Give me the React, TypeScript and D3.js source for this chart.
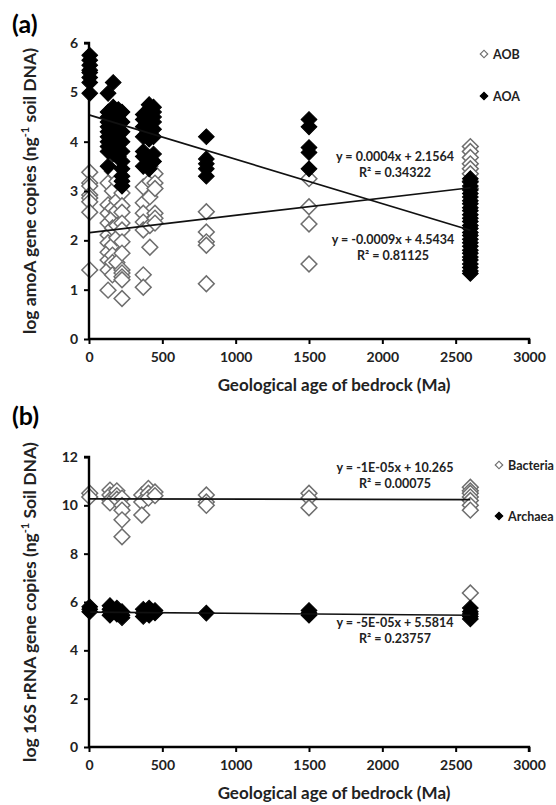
import * as d3 from 'd3'
import { useEffect, useRef } from 'react'

type Pt = [number, number]

// panel (a): log amoA gene copies
const aob: Pt[] = [
  [5, 3.38], [5, 3.16], [5, 3.1], [5, 2.92], [5, 2.86], [5, 2.78], [5, 2.57], [5, 1.4],
  [130, 3.16], [130, 2.72], [130, 2.55], [130, 2.35], [130, 2.11], [130, 1.95], [130, 1.76], [130, 1.6], [130, 1.4], [130, 0.99],
  [160, 3.4], [160, 3.0], [160, 2.65], [160, 2.45], [160, 2.25], [160, 1.9], [160, 1.7], [160, 1.55], [160, 1.3],
  [190, 3.2], [190, 2.8], [190, 2.6], [190, 2.3], [190, 2.05], [190, 1.55],
  [225, 2.96], [225, 2.7], [225, 2.57], [225, 2.35], [225, 2.21], [225, 1.97], [225, 1.74], [225, 1.4], [225, 1.34], [225, 1.26], [225, 1.2], [225, 0.82],
  [370, 3.08], [370, 2.76], [370, 2.55], [370, 2.37], [370, 2.21], [370, 1.3], [370, 1.05],
  [415, 3.5], [415, 3.2], [415, 2.88], [415, 2.3], [415, 1.86],
  [450, 3.35], [450, 3.16], [450, 3.05], [450, 2.55], [450, 2.45], [450, 2.35],
  [800, 2.58], [800, 2.17], [800, 1.97], [800, 1.9], [800, 1.12],
  [1500, 3.25], [1500, 2.68], [1500, 2.33], [1500, 1.52],
  [2600, 3.9], [2600, 3.8], [2600, 3.68], [2600, 3.55], [2600, 3.45], [2600, 3.35], [2600, 3.2], [2600, 3.05],
]

const aoa: Pt[] = [
  [5, 5.75], [5, 5.65], [5, 5.55], [5, 5.45], [5, 5.4], [5, 5.3], [5, 5.2], [5, 4.98],
  [130, 4.98], [130, 4.6], [130, 4.5], [130, 4.4], [130, 4.3], [130, 4.2], [130, 4.1], [130, 4.0], [130, 3.9], [130, 3.8], [130, 3.5],
  [165, 5.2], [165, 4.7], [165, 4.6], [165, 4.5], [165, 4.4], [165, 4.3], [165, 4.2], [165, 4.1], [165, 4.0], [165, 3.9], [165, 3.75],
  [200, 4.65], [200, 4.55], [200, 4.45], [200, 4.35], [200, 4.25], [200, 4.15], [200, 4.05], [200, 3.95], [200, 3.85], [200, 3.7],
  [225, 4.6], [225, 4.4], [225, 4.2], [225, 4.0], [225, 3.8], [225, 3.6], [225, 3.45], [225, 3.3], [225, 3.2], [225, 3.1],
  [370, 4.55], [370, 4.45], [370, 4.3], [370, 4.1], [370, 3.8], [370, 3.7], [370, 3.5],
  [410, 4.75], [410, 4.65], [410, 4.55], [410, 4.45], [410, 4.35], [410, 4.2], [410, 4.05], [410, 3.65], [410, 3.45],
  [440, 4.7], [440, 4.6], [440, 4.5], [440, 4.4], [440, 4.25], [440, 4.1], [440, 3.75], [440, 3.6],
  [800, 4.1], [800, 3.65], [800, 3.55], [800, 3.45], [800, 3.3],
  [1500, 4.45], [1500, 4.3], [1500, 3.88], [1500, 3.78], [1500, 3.45],
  [2600, 3.25], [2600, 3.18], [2600, 3.1], [2600, 3.02], [2600, 2.95], [2600, 2.88], [2600, 2.8], [2600, 2.74],
  [2600, 2.66], [2600, 2.6], [2600, 2.52], [2600, 2.45], [2600, 2.38], [2600, 2.3], [2600, 2.24], [2600, 2.16],
  [2600, 2.1], [2600, 2.02], [2600, 1.95], [2600, 1.88], [2600, 1.8], [2600, 1.74], [2600, 1.66], [2600, 1.6],
  [2600, 1.52], [2600, 1.45], [2600, 1.38], [2600, 1.33],
]

// panel (b): log 16S rRNA gene copies
const bacteria: Pt[] = [
  [5, 10.5], [5, 10.35],
  [143, 10.63], [143, 10.43], [143, 10.22], [143, 10.1],
  [190, 10.6], [190, 10.4], [190, 10.25],
  [225, 10.3], [225, 10.0], [225, 9.8], [225, 9.4], [225, 8.7],
  [360, 10.43], [360, 10.14], [360, 9.6],
  [405, 10.7], [405, 10.5], [405, 10.3],
  [450, 10.55], [450, 10.4],
  [800, 10.43], [800, 10.14], [800, 10.0],
  [1500, 10.5], [1500, 10.3], [1500, 9.9],
  [2600, 10.75], [2600, 10.6], [2600, 10.5], [2600, 10.35], [2600, 10.2], [2600, 10.0], [2600, 9.8], [2600, 6.37],
]

const archaea: Pt[] = [
  [5, 5.8], [5, 5.7], [5, 5.6],
  [143, 5.85], [143, 5.7], [143, 5.6], [143, 5.45],
  [190, 5.75], [190, 5.6], [190, 5.5],
  [225, 5.6], [225, 5.45], [225, 5.35],
  [370, 5.7], [370, 5.55], [370, 5.4],
  [410, 5.75], [410, 5.6], [410, 5.45],
  [450, 5.65], [450, 5.55],
  [800, 5.54],
  [1500, 5.65], [1500, 5.55], [1500, 5.45],
  [2600, 5.75], [2600, 5.6], [2600, 5.5], [2600, 5.4], [2600, 5.3],
]

// trend lines [slope, intercept]
const trendAOB: Pt = [0.00035, 2.1564]
const trendAOA: Pt = [-0.0009, 4.5434]
const trendBac: Pt = [-0.00001, 10.265]
const trendArc: Pt = [-0.00005, 5.5814]

const xTicks = [0, 500, 1000, 1500, 2000, 2500, 3000]
const yTicksA = [0, 1, 2, 3, 4, 5, 6]
const yTicksB = [0, 2, 4, 6, 8, 10, 12]

const FONT = 'Lato, "Open Sans", sans-serif'
const X0 = 89
const X1 = 529

export default function App() {
  const svgRef = useRef<SVGSVGElement>(null)

  useEffect(() => {
    const svg = d3.select(svgRef.current!)
    svg.selectAll('*').remove()

    const x = d3.scaleLinear().domain([0, 3000]).range([X0, X1])
    const diamond = d3.symbol(d3.symbolSquare, 124)()
    const smallDiamond = d3.symbol(d3.symbolSquare, 28)()

    function panel(opts: {
      y: d3.ScaleLinear<number, number>
      yTicks: number[]
      open: Pt[]
      filled: Pt[]
      trends: { t: Pt; eq: string; r2: string; lx: number; ly: number }[]
      legend: { label: string; filled: boolean; ly: number }[]
      legendX: number
      tag: string
      tagY: number
      yTitle: string
      yTitleSuffix: string
    }) {
      const { y } = opts
      const g = svg.append('g')
      const y0 = y.range()[0]

      // points
      g.append('g')
        .selectAll('path')
        .data(opts.open)
        .join('path')
        .attr('d', diamond)
        .attr('transform', (d) => `translate(${x(d[0])},${y(d[1])}) rotate(45)`)
        .attr('fill', '#fff')
        .attr('stroke', '#6e6e6e')
        .attr('stroke-width', 1.5)

      g.append('g')
        .selectAll('path')
        .data(opts.filled)
        .join('path')
        .attr('d', diamond)
        .attr('transform', (d) => `translate(${x(d[0])},${y(d[1])}) rotate(45)`)
        .attr('fill', '#000')
        .attr('stroke', '#000')
        .attr('stroke-width', 1)

      // trend lines + equations
      opts.trends.forEach((tr) => {
        const [m, b] = tr.t
        g.append('line')
          .attr('x1', x(5))
          .attr('x2', x(2600))
          .attr('y1', y(m * 5 + b))
          .attr('y2', y(m * 2600 + b))
          .attr('stroke', '#111')
          .attr('stroke-width', 1.7)
        const t = g
          .append('text')
          .attr('x', tr.lx)
          .attr('y', tr.ly)
          .attr('text-anchor', 'middle')
          .attr('font-family', FONT)
          .attr('font-weight', 700)
          .attr('font-size', 12.5)
          .attr('fill', '#222')
        t.append('tspan').attr('x', tr.lx).text(tr.eq)
        t.append('tspan').attr('x', tr.lx).attr('dy', 16).text(tr.r2)
      })

      // axes
      const gy = g.append('g').attr('transform', `translate(${X0},0)`)
      gy.call(d3.axisLeft(y).tickValues(opts.yTicks).tickSize(5).tickPadding(6).tickFormat(d3.format('d')))
      const gx = g.append('g').attr('transform', `translate(0,${y0})`)
      gx.call(d3.axisBottom(x).tickValues(xTicks).tickSize(5).tickPadding(8).tickFormat(d3.format('d')))
      ;[gx, gy].forEach((ax) => {
        ax.select('.domain').attr('stroke', '#000').attr('stroke-width', 2.4)
        ax.selectAll('.tick line').attr('stroke', '#000').attr('stroke-width', 2)
        ax.selectAll('text')
          .attr('font-family', FONT)
          .attr('font-weight', 700)
          .attr('font-size', 14)
          .attr('fill', '#222')
      })
      gx.select('.domain').attr('d', `M${X0},0H${X1}V5`)
      gy.select('.domain').attr('d', `M-5,${y.range()[1]}H0V${y0}`)

      // legend
      opts.legend.forEach((l) => {
        g.append('path')
          .attr('d', smallDiamond)
          .attr('transform', `translate(${opts.legendX},${l.ly}) rotate(45)`)
          .attr('fill', l.filled ? '#000' : '#fff')
          .attr('stroke', l.filled ? '#000' : '#6e6e6e')
          .attr('stroke-width', 1.2)
        g.append('text')
          .attr('x', opts.legendX + 9)
          .attr('y', l.ly + 4.5)
          .attr('font-family', FONT)
          .attr('font-weight', 700)
          .attr('font-size', 12.5)
          .attr('fill', '#222')
          .text(l.label)
      })

      // panel tag
      g.append('text')
        .attr('x', 12)
        .attr('y', opts.tagY)
        .attr('font-family', FONT)
        .attr('font-weight', 700)
        .attr('font-size', 25)
        .attr('fill', '#000')
        .text(opts.tag)

      g.append('text')
        .attr('x', (X0 + X1) / 2 + 25)
        .attr('y', y0 + 52)
        .attr('text-anchor', 'middle')
        .attr('font-family', FONT)
        .attr('font-weight', 700)
        .attr('font-size', 17)
        .attr('fill', '#222')
        .text('Geological age of bedrock (Ma)')

      const cy = (y.range()[0] + y.range()[1]) / 2
      const yt = g
        .append('text')
        .attr('transform', `translate(36,${cy}) rotate(-90)`)
        .attr('text-anchor', 'middle')
        .attr('font-family', FONT)
        .attr('font-weight', 700)
        .attr('font-size', 17.5)
        .attr('fill', '#222')
      yt.append('tspan').text(opts.yTitle + ' (ng')
      yt.append('tspan').attr('font-size', 11).attr('dy', -7).text('-1')
      yt.append('tspan').attr('dy', 7).text(' ' + opts.yTitleSuffix + ')')
    }

    panel({
      y: d3.scaleLinear().domain([0, 6]).range([339, 43]),
      yTicks: yTicksA,
      open: aob,
      filled: aoa,
      trends: [
        { t: trendAOB, eq: 'y = 0.0004x + 2.1564', r2: 'R² = 0.34322', lx: 395, ly: 161 },
        { t: trendAOA, eq: 'y = -0.0009x + 4.5434', r2: 'R² = 0.81125', lx: 393, ly: 244 },
      ],
      legend: [
        { label: 'AOB', filled: false, ly: 54 },
        { label: 'AOA', filled: true, ly: 96 },
      ],
      legendX: 484,
      tag: '(a)',
      tagY: 33,
      yTitle: 'log amoA gene copies',
      yTitleSuffix: 'soil DNA',
    })

    panel({
      y: d3.scaleLinear().domain([0, 12]).range([747, 457]),
      yTicks: yTicksB,
      open: bacteria,
      filled: archaea,
      trends: [
        { t: trendBac, eq: 'y = -1E-05x + 10.265', r2: 'R² = 0.00075', lx: 395, ly: 472 },
        { t: trendArc, eq: 'y = -5E-05x + 5.5814', r2: 'R² = 0.23757', lx: 395, ly: 627 },
      ],
      legend: [
        { label: 'Bacteria', filled: false, ly: 465 },
        { label: 'Archaea', filled: true, ly: 516 },
      ],
      legendX: 499,
      tag: '(b)',
      tagY: 425,
      yTitle: 'log 16S rRNA gene copies',
      yTitleSuffix: 'Soil DNA',
    })
  }, [])

  return (
    <svg
      ref={svgRef}
      width={556}
      height={805}
      style={{ position: 'absolute', left: 0, top: 0, background: '#fff', display: 'block' }}
    />
  )
}
